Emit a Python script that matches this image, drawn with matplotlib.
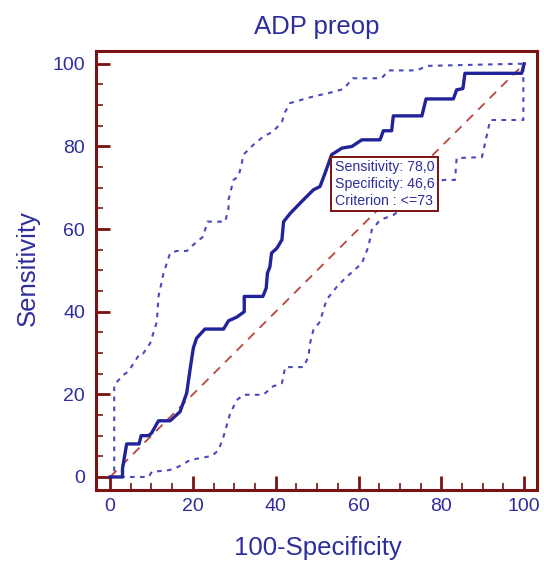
import matplotlib
matplotlib.use("Agg")
import matplotlib.pyplot as plt
from matplotlib.ticker import MultipleLocator

# ROC curve (100-Specificity, Sensitivity)
roc_x = [0, 3, 3, 4, 7, 7.5, 9.3, 10, 11.7, 14.5, 16.9, 18.5, 19.3, 20.1, 20.9, 22.9,
         27.4, 28.6, 30.6, 32.4, 32.4, 36.9, 37.7, 38, 38.6, 39, 40.3, 41.5, 41.9, 43.5,
         46.7, 49.1, 50.7, 51.9, 53.5, 56, 58.4, 60.8, 65.2, 66, 68, 68.4, 75.3, 76.3,
         82.9, 83.7, 85.2, 85.7, 99.4, 100]
roc_y = [0, 0, 2, 8, 8, 10, 10, 10.6, 13.6, 13.6, 15.8, 20.3, 25.9, 31.2, 33.6, 35.8,
         35.8, 37.8, 38.7, 40, 43.7, 43.7, 45.7, 49.3, 50.9, 54.2, 55.4, 57.4, 61.8, 63.8,
         67.1, 69.5, 70.3, 73.5, 78, 79.6, 80, 81.6, 81.6, 83.8, 83.8, 87.4, 87.4, 91.5,
         91.5, 93.7, 94, 97.7, 97.7, 100]

# upper 95% confidence bound
up_x = [0, 1, 1, 3.2, 4.4, 7.2, 8, 9.7, 11.3, 11.7, 12.9, 14.5, 16.1, 18.5, 20.1, 22.5,
        23.5, 27.8, 28.6, 28.6, 29.8, 31, 31.8, 32.2, 34.6, 37, 39.4, 41.5, 42.3, 43.5,
        45.9, 49.1, 53.1, 56.4, 58.6, 65.6, 67.2, 74.1, 76.5, 98.2, 100]
up_y = [0, 0, 22.3, 24.7, 25.5, 29.9, 29.9, 32.4, 37.6, 43.7, 49.3, 54.2, 54.7, 54.7,
        56.2, 58.2, 61.8, 61.8, 65, 67.1, 71.9, 72.7, 75.9, 78, 80.4, 82.4, 83.6, 86,
        88.4, 90.5, 91.2, 92.1, 93, 93.9, 96.5, 96.5, 98.4, 98.4, 99.5, 100, 100]

# lower 95% confidence bound
lo_x = [0, 9.3, 10.1, 13.3, 15.3, 17.3, 19.3, 24.6, 26.2, 27.4, 29, 30.6, 32.2, 37,
        39.3, 41.5, 42.3, 46.7, 47.9, 48.3, 49.1, 50.7, 51.5, 52.3, 54.8, 57.2, 60.8,
        62.4, 63.2, 65.2, 68.4, 72, 76, 80.4, 83.3, 83.7, 89.8, 91.8, 99.8, 99.8]
lo_y = [0, 0, 1.3, 1.5, 1.9, 2.9, 4.1, 5.1, 6.5, 9.8, 15.4, 18.6, 19.9, 19.9, 21.9,
        22.7, 26.6, 26.6, 29.1, 32.4, 35.6, 37.6, 40.4, 42.9, 46.1, 48.5, 51.7, 55.8,
        59.8, 62.2, 63.4, 66, 68.5, 71.9, 71.9, 77.2, 77.4, 86.4, 86.4, 100]

title = "ADP preop"
xlabel = "100-Specificity"
ylabel = "Sensitivity"
box_text = "Sensitivity: 78,0\nSpecificity: 46,6\nCriterion : <=73"

text_col = "#2d2d9c"
line_col = "#22229a"
ci_col = "#4848bf"
frame_col = "#7a1212"
diag_col = "#b8463e"

plt.rcParams["font.family"] = ["Liberation Sans", "DejaVu Sans"]

fig = plt.figure(figsize=(5.44, 5.61), dpi=100)
ax = fig.add_axes([96 / 544, 1 - 490 / 561, 441 / 544, 439 / 561])

ax.plot([0, 100], [0, 100], color=diag_col, lw=1.3, dashes=(5, 4))
ax.plot(up_x, up_y, color=ci_col, lw=1.5, dashes=(2.2, 2.6))
ax.plot(lo_x, lo_y, color=ci_col, lw=1.5, dashes=(2.2, 2.6))
ax.plot(roc_x, roc_y, color=line_col, lw=2.4)

ax.text(54.3, 70.9, box_text, fontsize=10.2, color=text_col, va="center", ha="left",
        linespacing=1.25,
        bbox=dict(boxstyle="square,pad=0.25", facecolor="white", edgecolor=frame_col, lw=1.4))

ax.set_xlim(-3.4, 103.1)
ax.set_ylim(-3.15, 103.1)
ax.xaxis.set_major_locator(MultipleLocator(20))
ax.xaxis.set_minor_locator(MultipleLocator(5))
ax.yaxis.set_major_locator(MultipleLocator(20))
ax.yaxis.set_minor_locator(MultipleLocator(5))

for s in ax.spines.values():
    s.set_color(frame_col)
    s.set_linewidth(2.2)

ax.tick_params(which="major", direction="in", length=10, width=2, color=frame_col,
               labelsize=14, labelcolor=text_col)
ax.tick_params(which="minor", direction="in", length=5, width=1.2, color=frame_col)
ax.tick_params(axis="x", which="major", pad=6)
ax.tick_params(axis="y", which="major", pad=8)

ax.set_title(title, fontsize=18.5, color=text_col, pad=12)
ax.set_xlabel(xlabel, fontsize=18.5, color=text_col)
ax.set_ylabel(ylabel, fontsize=18.5, color=text_col)
ax.xaxis.set_label_coords(0.503, -0.105)
ax.yaxis.set_label_coords(-0.127, 0.506)

fig.savefig("out.png", dpi=100)
